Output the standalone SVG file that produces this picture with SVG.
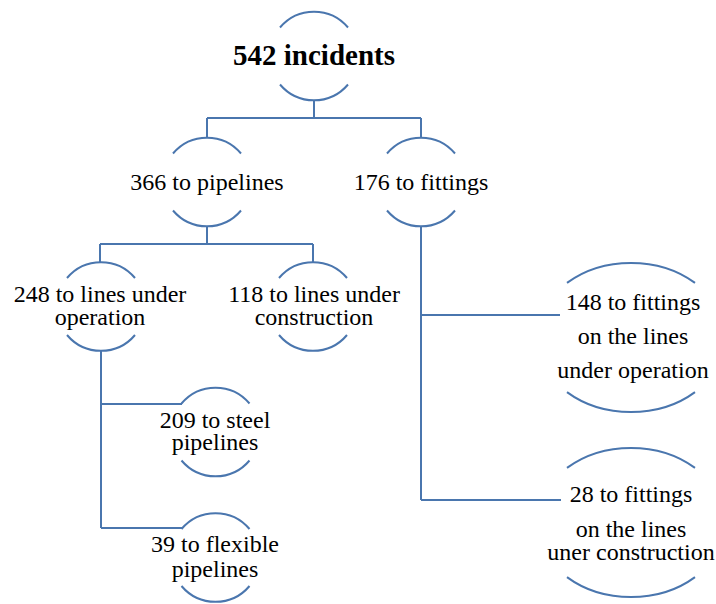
<svg xmlns="http://www.w3.org/2000/svg" xmlns:xlink="http://www.w3.org/1999/xlink" width="716" height="604" viewBox="0 0 716 604">
  <style>
    .arc { fill: none; stroke: #4A76AE; stroke-width: 2; }
    .link { fill: none; stroke: #4A76AE; stroke-width: 2; }
    text { font-family: "Liberation Serif", "Times New Roman", serif; font-size: 24px; fill: #000; text-anchor: middle; }
    .title { font-size: 29px; font-weight: bold; }
  </style>
  <defs>
    <!-- round node: only the top and bottom caps of the circle are drawn -->
    <path id="capsRound" d="M-34,-28.5 A44.5,44.5 0 0 1 34,-28.5 M-34,28.5 A44.5,44.5 0 0 0 34,28.5"/>
    <!-- wide node: caps of an ellipse -->
    <path id="capsWide" d="M-64,-54.6 A94,74.5 0 0 1 64,-54.6 M-64,54.6 A94,74.5 0 0 0 64,54.6"/>
  </defs>

  <g id="connectors">
    <path class="link" d="M314,100 V118 M207,118 H421 M207,118 V137.5 M421,118 V137.5"/>
    <path class="link" d="M207,226.5 V244 M100,244 H313 M100,244 V262 M313,244 V262"/>
    <path class="link" d="M101,351 V528 M101,404 H182 M101,528 H182"/>
    <path class="link" d="M421,226.5 V500 M421,315 H560 M421,500 H561"/>
  </g>

  <g id="n-total">
    <use xlink:href="#capsRound" class="arc" transform="translate(314,56)"/>
    <text class="title" x="314" y="65">542 incidents</text>
  </g>

  <g id="n-pipelines">
    <use xlink:href="#capsRound" class="arc" transform="translate(207,182)"/>
    <text x="207" y="190">366 to pipelines</text>
  </g>

  <g id="n-fittings">
    <use xlink:href="#capsRound" class="arc" transform="translate(421,182)"/>
    <text x="421" y="190">176 to fittings</text>
  </g>

  <g id="n-lines-operation">
    <use xlink:href="#capsRound" class="arc" transform="translate(101,306.5)"/>
    <text x="100" y="302">248 to lines under</text>
    <text x="100" y="325">operation</text>
  </g>

  <g id="n-lines-construction">
    <use xlink:href="#capsRound" class="arc" transform="translate(313,306.5)"/>
    <text x="314" y="302">118 to lines under</text>
    <text x="314" y="325">construction</text>
  </g>

  <g id="n-steel">
    <use xlink:href="#capsRound" class="arc" transform="translate(215.5,432)"/>
    <text x="215" y="428">209 to steel</text>
    <text x="215" y="450">pipelines</text>
  </g>

  <g id="n-flexible">
    <use xlink:href="#capsRound" class="arc" transform="translate(215.5,557.5)"/>
    <text x="215" y="552">39 to flexible</text>
    <text x="215" y="577">pipelines</text>
  </g>

  <g id="n-fittings-operation">
    <use xlink:href="#capsWide" class="arc" transform="translate(631,337.5)"/>
    <text x="633" y="310">148 to fittings</text>
    <text x="633" y="344">on the lines</text>
    <text x="633" y="378">under operation</text>
  </g>

  <g id="n-fittings-construction">
    <use xlink:href="#capsWide" class="arc" transform="translate(631,522.5)"/>
    <text x="631" y="502">28 to fittings</text>
    <text x="631" y="537">on the lines</text>
    <text x="631" y="560">uner construction</text>
  </g>
</svg>
